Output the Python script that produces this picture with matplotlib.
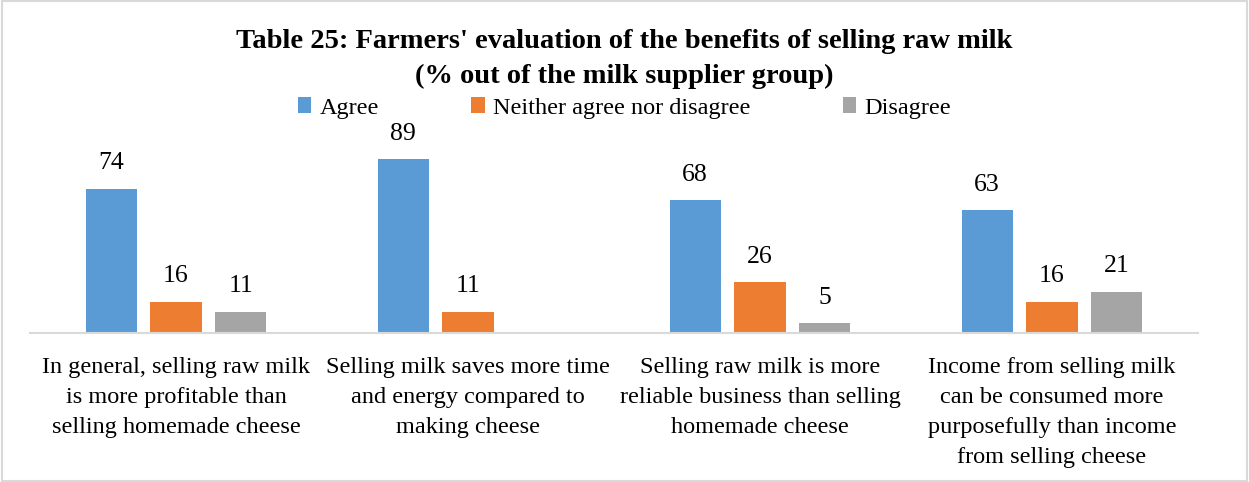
import matplotlib
matplotlib.use("Agg")
import matplotlib.pyplot as plt
import numpy as np

categories = [
    "In general, selling raw milk\nis more profitable than\nselling homemade cheese",
    "Selling milk saves more time\nand energy compared to\nmaking cheese",
    "Selling raw milk is more\nreliable business than selling\nhomemade cheese",
    "Income from selling milk\ncan be consumed more\npurposefully than income\nfrom selling cheese",
]
series_names = ["Agree", "Neither agree nor disagree", "Disagree"]
agree = [74, 89, 68, 63]
neither = [16, 11, 26, 16]
disagree = [11, None, 5, 21]
colors = ["#5B9BD5", "#ED7D31", "#A5A5A5"]

plt.rcParams["font.family"] = ["Liberation Serif", "DejaVu Serif"]

fig = plt.figure(figsize=(12.49, 4.82), dpi=100)
ax = fig.add_axes([30 / 1249, 1 - 333 / 482, 1168 / 1249, 195 / 482])

x = np.arange(len(categories))
width = 0.175
pitch = 0.222
for i, (vals, name, col) in enumerate(zip([agree, neither, disagree], series_names, colors)):
    xs = x + (i - 1) * pitch
    heights = [np.nan if v is None else v for v in vals]
    ax.bar(xs, heights, width, color=col, label=name)
    for xi, v in zip(xs, vals):
        if v is not None:
            ax.annotate(str(v), (xi, v), xytext=(0, 10.5), textcoords="offset points",
                        ha="center", va="bottom", fontsize=18.5)

ax.set_xlim(-0.5, len(categories) - 0.5)
ax.set_ylim(0, 100)
ax.set_yticks([])
ax.set_xticks(x)
ax.set_xticklabels(categories, fontsize=17.5, linespacing=1.57)
ax.tick_params(axis="x", length=0, pad=17)
for s in ["top", "right", "left"]:
    ax.spines[s].set_visible(False)
ax.spines["bottom"].set_color("#D9D9D9")
ax.spines["bottom"].set_linewidth(1.5)

fig.text(0.5, 1 - 41 / 482, "Table 25: Farmers' evaluation of the benefits of selling raw milk",
         ha="center", va="center", fontsize=20.5, fontweight="bold")
fig.text(0.5, 1 - 76 / 482, "(% out of the milk supplier group)",
         ha="center", va="center", fontsize=20.5, fontweight="bold")

fig.legend(loc="center", bbox_to_anchor=(0.5, 1 - 108 / 482), ncol=3, frameon=False,
           fontsize=17.5, handlelength=0.55, handleheight=0.6, handletextpad=0.35,
           columnspacing=3.8)

# light frame around the whole chart
fig.patches.append(plt.Rectangle((0.002, 0.002), 0.996, 0.996, transform=fig.transFigure,
                                 fill=False, edgecolor="#D9D9D9", linewidth=1.5))

fig.savefig("out.png", dpi=100)
